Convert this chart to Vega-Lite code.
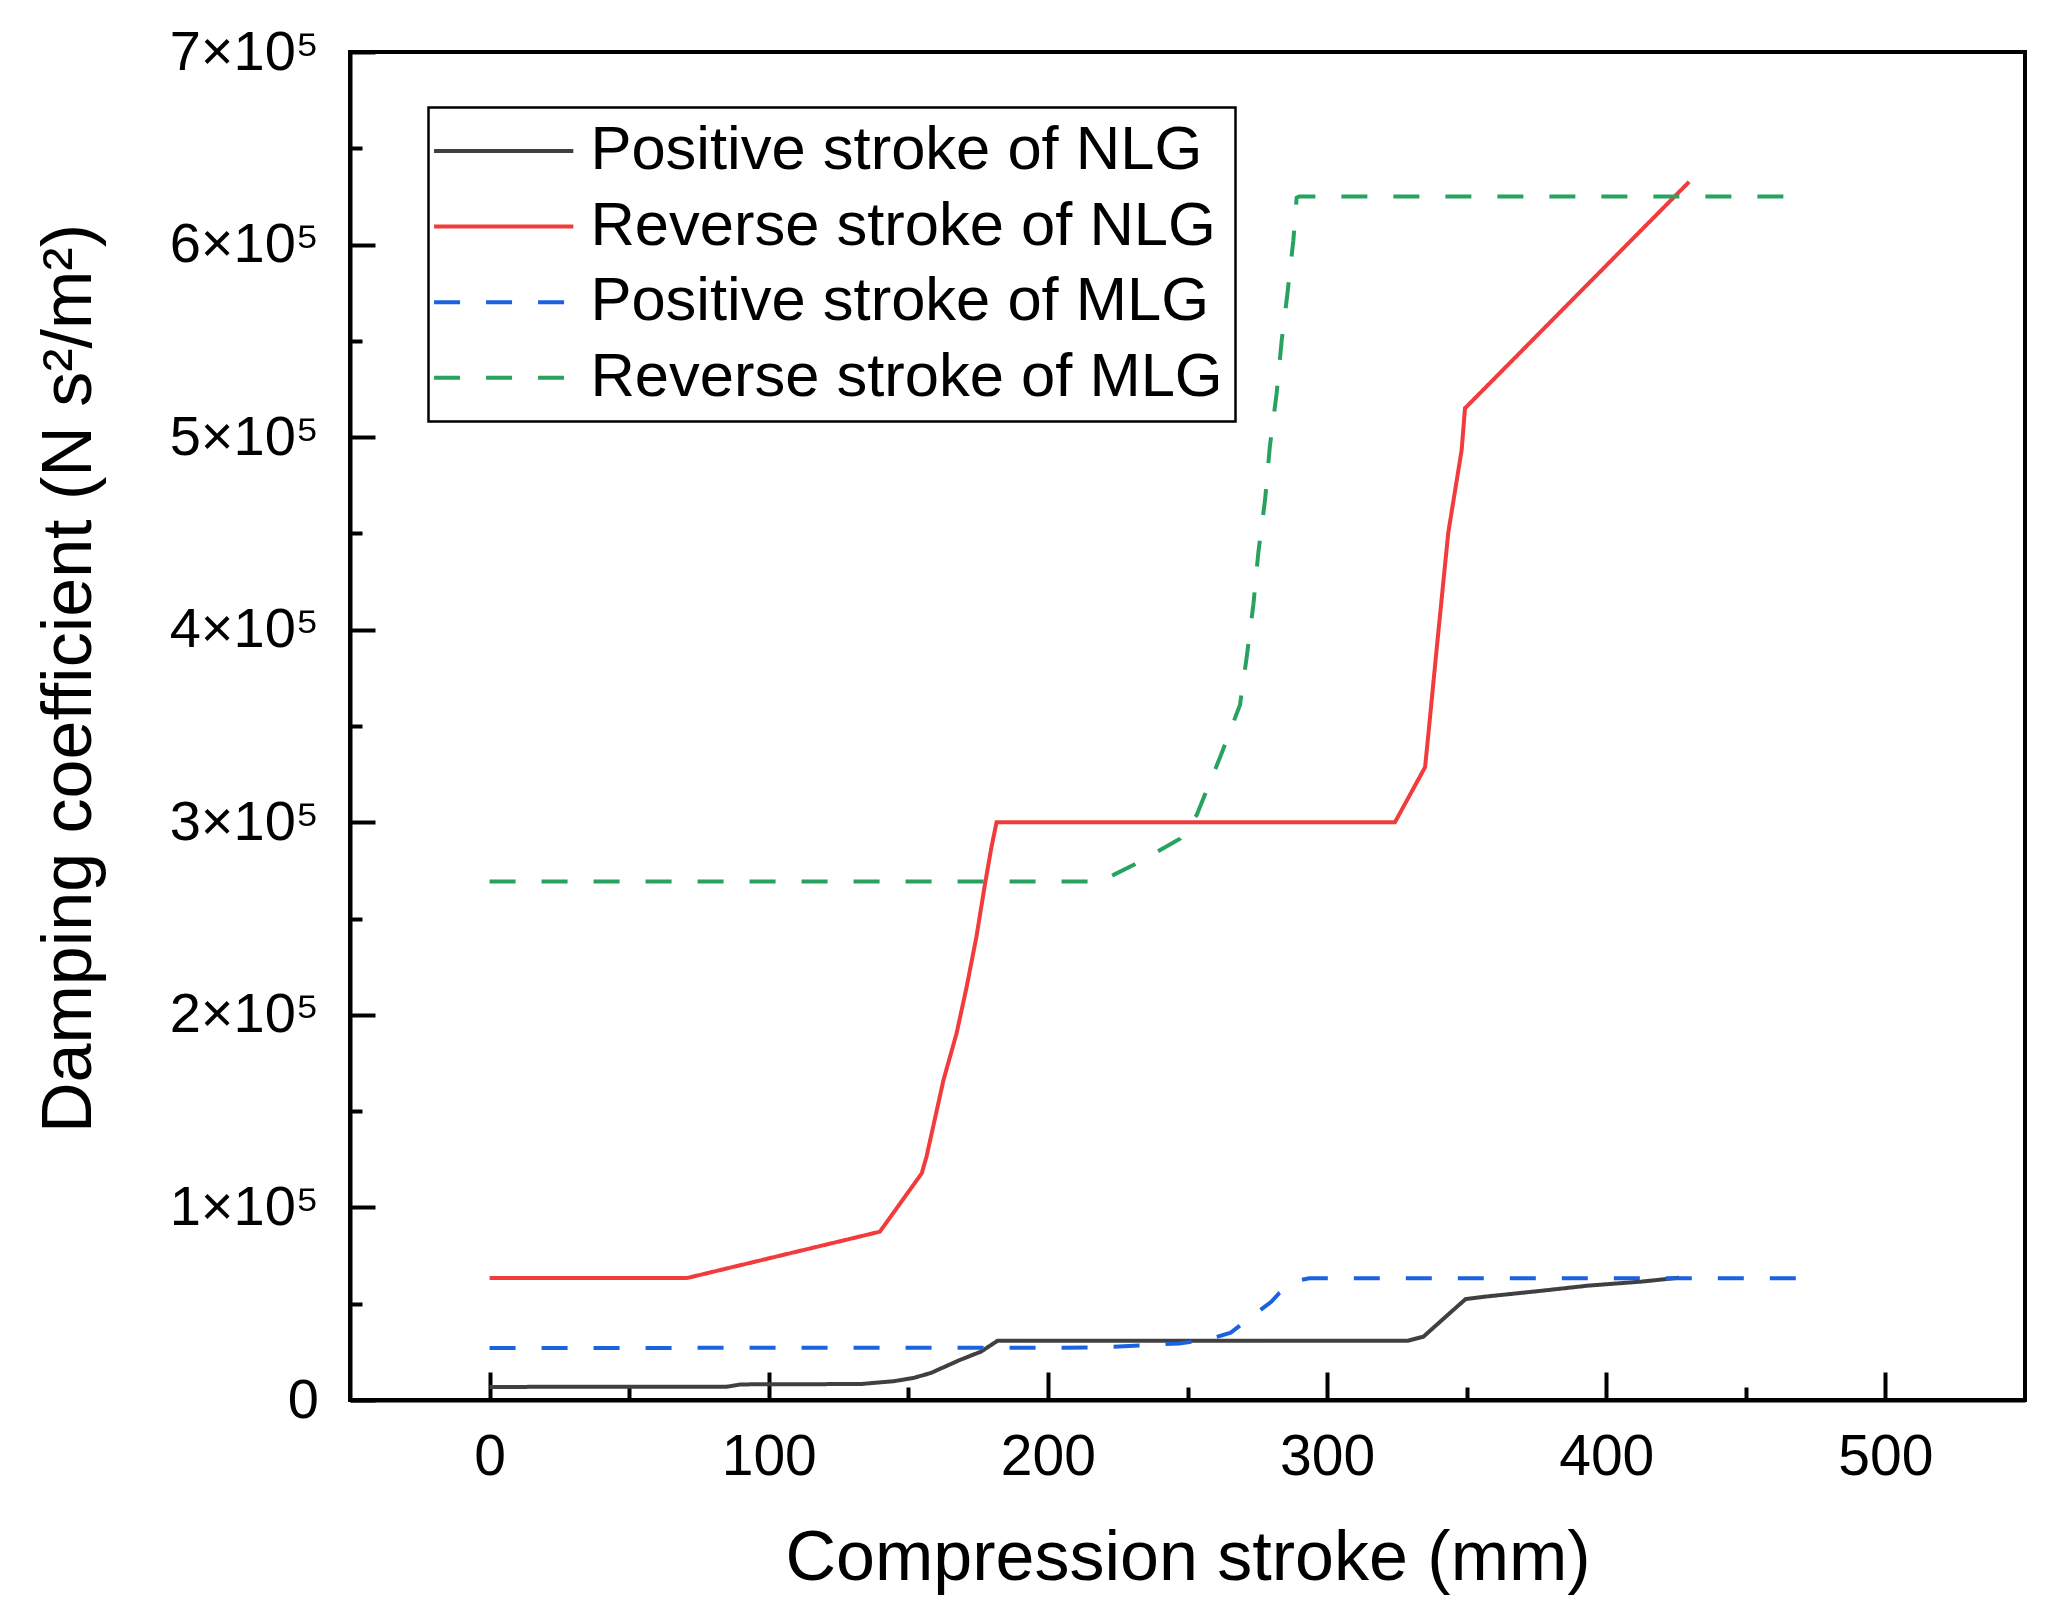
{
  "$schema": "https://vega.github.io/schema/vega-lite/v6.json",
  "width": 1675,
  "height": 1348,
  "autosize": {"type": "none"},
  "padding": {"left": 350, "top": 52, "right": 30, "bottom": 217},
  "background": "white",
  "config": {
    "font": "Liberation Sans",
    "view": {"stroke": "black", "strokeWidth": 4},
    "legend": {
      "orient": "none",
      "legendX": 78.5,
      "legendY": 55.5,
      "padding": 12.7,
      "strokeColor": "black",
      "strokeWidth": 2.5,
      "fillColor": "white",
      "symbolType": "M-2.15,0H5.75",
      "symbolSize": 1243,
      "symbolStrokeWidth": 4,
      "labelFontSize": 61.5,
      "labelColor": "black",
      "labelOffset": 87.7,
      "labelLimit": 1000,
      "rowPadding": 12.6,
      "title": null
    }
  },
  "data": {
    "values": [
      {"series": "Positive stroke of NLG", "x": 0, "y": 6800},
      {"series": "Positive stroke of NLG", "x": 85, "y": 6900},
      {"series": "Positive stroke of NLG", "x": 90, "y": 8100},
      {"series": "Positive stroke of NLG", "x": 133, "y": 8300},
      {"series": "Positive stroke of NLG", "x": 145, "y": 9800},
      {"series": "Positive stroke of NLG", "x": 152, "y": 11500},
      {"series": "Positive stroke of NLG", "x": 158, "y": 14000},
      {"series": "Positive stroke of NLG", "x": 168.5, "y": 20800},
      {"series": "Positive stroke of NLG", "x": 176, "y": 25100},
      {"series": "Positive stroke of NLG", "x": 182, "y": 30800},
      {"series": "Positive stroke of NLG", "x": 329, "y": 30800},
      {"series": "Positive stroke of NLG", "x": 334.5, "y": 32900},
      {"series": "Positive stroke of NLG", "x": 349.6, "y": 52400},
      {"series": "Positive stroke of NLG", "x": 356.8, "y": 53700},
      {"series": "Positive stroke of NLG", "x": 376, "y": 56600},
      {"series": "Positive stroke of NLG", "x": 393.6, "y": 59400},
      {"series": "Positive stroke of NLG", "x": 412.8, "y": 61500},
      {"series": "Positive stroke of NLG", "x": 426, "y": 63500},

      {"series": "Reverse stroke of NLG", "x": 0, "y": 63300},
      {"series": "Reverse stroke of NLG", "x": 70.6, "y": 63300},
      {"series": "Reverse stroke of NLG", "x": 139.8, "y": 87400},
      {"series": "Reverse stroke of NLG", "x": 154.8, "y": 117700},
      {"series": "Reverse stroke of NLG", "x": 156.5, "y": 126300},
      {"series": "Reverse stroke of NLG", "x": 162.6, "y": 166200},
      {"series": "Reverse stroke of NLG", "x": 167.3, "y": 190500},
      {"series": "Reverse stroke of NLG", "x": 170.9, "y": 214600},
      {"series": "Reverse stroke of NLG", "x": 174.4, "y": 240600},
      {"series": "Reverse stroke of NLG", "x": 177.5, "y": 268300},
      {"series": "Reverse stroke of NLG", "x": 179.8, "y": 287300},
      {"series": "Reverse stroke of NLG", "x": 181.6, "y": 300000},
      {"series": "Reverse stroke of NLG", "x": 324.3, "y": 300000},
      {"series": "Reverse stroke of NLG", "x": 335.1, "y": 328600},
      {"series": "Reverse stroke of NLG", "x": 336.3, "y": 346000},
      {"series": "Reverse stroke of NLG", "x": 339.3, "y": 390700},
      {"series": "Reverse stroke of NLG", "x": 343.4, "y": 450300},
      {"series": "Reverse stroke of NLG", "x": 348.2, "y": 493300},
      {"series": "Reverse stroke of NLG", "x": 349.4, "y": 515000},
      {"series": "Reverse stroke of NLG", "x": 429.7, "y": 632600},

      {"series": "Positive stroke of MLG", "x": 0, "y": 27000},
      {"series": "Positive stroke of MLG", "x": 215, "y": 27200},
      {"series": "Positive stroke of MLG", "x": 229, "y": 28000},
      {"series": "Positive stroke of MLG", "x": 247, "y": 29400},
      {"series": "Positive stroke of MLG", "x": 257, "y": 31200},
      {"series": "Positive stroke of MLG", "x": 265.5, "y": 35000},
      {"series": "Positive stroke of MLG", "x": 280, "y": 51000},
      {"series": "Positive stroke of MLG", "x": 283, "y": 55700},
      {"series": "Positive stroke of MLG", "x": 289, "y": 61800},
      {"series": "Positive stroke of MLG", "x": 293.6, "y": 63200},
      {"series": "Positive stroke of MLG", "x": 472, "y": 63200},

      {"series": "Reverse stroke of MLG", "x": 0, "y": 269200},
      {"series": "Reverse stroke of MLG", "x": 218.7, "y": 269200},
      {"series": "Reverse stroke of MLG", "x": 230.6, "y": 277800},
      {"series": "Reverse stroke of MLG", "x": 247.3, "y": 291400},
      {"series": "Reverse stroke of MLG", "x": 253.3, "y": 303800},
      {"series": "Reverse stroke of MLG", "x": 256, "y": 313500},
      {"series": "Reverse stroke of MLG", "x": 261.6, "y": 333500},
      {"series": "Reverse stroke of MLG", "x": 268.8, "y": 360900},
      {"series": "Reverse stroke of MLG", "x": 271.2, "y": 385700},
      {"series": "Reverse stroke of MLG", "x": 273.6, "y": 413100},
      {"series": "Reverse stroke of MLG", "x": 275.4, "y": 440400},
      {"series": "Reverse stroke of MLG", "x": 277.8, "y": 467700},
      {"series": "Reverse stroke of MLG", "x": 279.5, "y": 495100},
      {"series": "Reverse stroke of MLG", "x": 281.9, "y": 522400},
      {"series": "Reverse stroke of MLG", "x": 283.7, "y": 549700},
      {"series": "Reverse stroke of MLG", "x": 285.8, "y": 574600},
      {"series": "Reverse stroke of MLG", "x": 287.9, "y": 601900},
      {"series": "Reverse stroke of MLG", "x": 289.1, "y": 624300},
      {"series": "Reverse stroke of MLG", "x": 290, "y": 625000},
      {"series": "Reverse stroke of MLG", "x": 466, "y": 625000}
    ]
  },
  "mark": {"type": "line", "strokeWidth": 4, "clip": true},
  "encoding": {
    "x": {
      "field": "x",
      "type": "quantitative",
      "scale": {"domain": [-50, 550], "nice": false, "zero": false},
      "axis": {
        "title": "Compression stroke (mm)",
        "values": [0, 50, 100, 150, 200, 250, 300, 350, 400, 450, 500],
        "labelExpr": "datum.value % 100 === 0 ? datum.label : ''",
        "grid": false,
        "domainColor": "black",
        "domainWidth": 4,
        "tickColor": "black",
        "tickWidth": 4,
        "tickSize": {"condition": {"test": "datum.value % 100 === 0", "value": -28}, "value": -13},
        "labelFontSize": 57,
        "labelColor": "black",
        "labelPadding": 57.5,
        "labelFlush": false,
        "titleFontSize": 70,
        "titleFontWeight": "normal",
        "titleColor": "black",
        "titleBaseline": "alphabetic",
        "titleY": 179
      }
    },
    "y": {
      "field": "y",
      "type": "quantitative",
      "scale": {"domain": [0, 700000], "nice": false},
      "axis": {
        "title": "Damping coefficient (N s²/m²)",
        "values": [0, 50000, 100000, 150000, 200000, 250000, 300000, 350000, 400000, 450000, 500000, 550000, 600000, 650000, 700000],
        "labelExpr": "datum.value === 0 ? '0' : (datum.value % 100000 === 0 ? format(datum.value / 100000, 'd') + '×10⁵' : '')",
        "grid": false,
        "domainColor": "black",
        "domainWidth": 4,
        "tickColor": "black",
        "tickWidth": 4,
        "tickSize": {"condition": {"test": "datum.value % 100000 === 0", "value": -25}, "value": -12},
        "labelFontSize": 56,
        "labelColor": "black",
        "labelPadding": 56.5,
        "labelFlush": false,
        "titleFontSize": 70,
        "titleFontWeight": "normal",
        "titleColor": "black",
        "titleAngle": -90,
        "titleBaseline": "alphabetic",
        "titleX": -260,
        "titleY": 626
      }
    },
    "color": {
      "field": "series",
      "type": "nominal",
      "scale": {
        "domain": ["Positive stroke of NLG", "Reverse stroke of NLG", "Positive stroke of MLG", "Reverse stroke of MLG"],
        "range": ["#404040", "#f23b3b", "#1a62e0", "#27a35f"]
      }
    },
    "strokeDash": {
      "field": "series",
      "type": "nominal",
      "scale": {
        "domain": ["Positive stroke of NLG", "Reverse stroke of NLG", "Positive stroke of MLG", "Reverse stroke of MLG"],
        "range": [[1, 0], [1, 0], [26, 26], [26, 26]]
      }
    }
  }
}
